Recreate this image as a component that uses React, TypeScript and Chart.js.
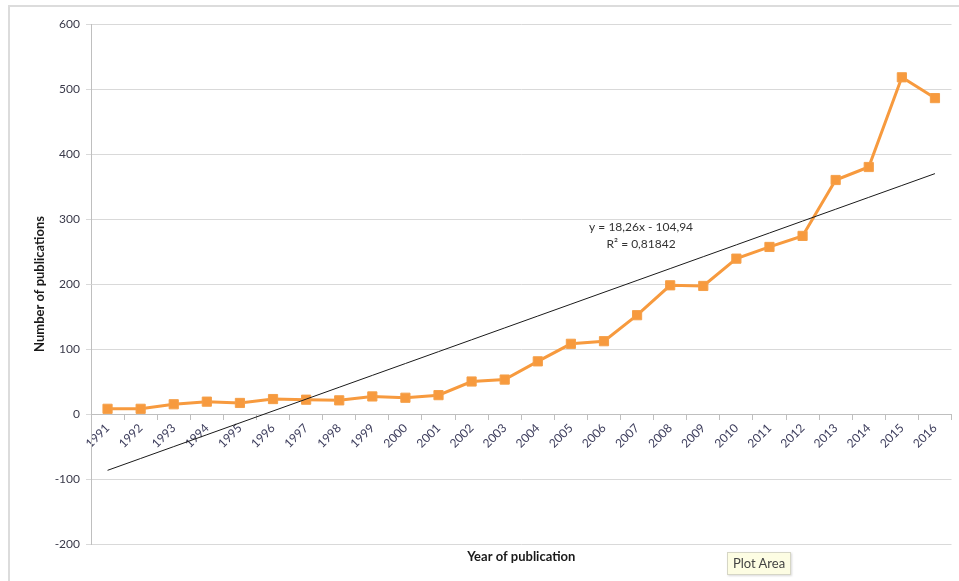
import React, { useEffect, useRef } from "react";
import { Chart, registerables } from "chart.js";

Chart.register(...registerables);

const years: string[] = [
  "1991", "1992", "1993", "1994", "1995", "1996", "1997", "1998", "1999", "2000",
  "2001", "2002", "2003", "2004", "2005", "2006", "2007", "2008", "2009", "2010",
  "2011", "2012", "2013", "2014", "2015", "2016",
];

const publications: number[] = [
  8, 8, 15, 19, 17, 23, 22, 21, 27, 25,
  29, 50, 53, 81, 108, 112, 152, 198, 197, 239,
  257, 274, 360, 380, 518, 486,
];

// Trendline shown in the chart: y = 18,26x - 104,94 (x = 1..26)
const trendSlope = 18.26;
const trendIntercept = -104.94;
const trendLabelLines: string[] = ["y = 18,26x - 104,94", "R² = 0,81842"];

const yTicks: number[] = [-200, -100, 0, 100, 200, 300, 400, 500, 600];

const FONT = "Lato, 'Open Sans', sans-serif";

export default function App() {
  const canvasRef = useRef<HTMLCanvasElement | null>(null);

  useEffect(() => {
    const canvas = canvasRef.current;
    if (!canvas) return;

    const trendData = years.map((_, i) => trendSlope * (i + 1) + trendIntercept);

    const equationPlugin = {
      id: "equationLabel",
      afterDatasetsDraw(chart: any) {
        const { ctx, scales } = chart;
        const x = scales.x.getPixelForValue(16) + 4;
        const y = scales.y.getPixelForValue(287);
        ctx.save();
        ctx.font = `12px ${FONT}`;
        ctx.fillStyle = "#333333";
        ctx.textAlign = "center";
        ctx.textBaseline = "middle";
        trendLabelLines.forEach((t, i) => ctx.fillText(t, x, y + i * 17));
        ctx.restore();
      },
    };

    const chart = new Chart(canvas, {
      type: "line",
      data: {
        labels: years,
        datasets: [
          {
            label: "Trend",
            data: trendData,
            borderColor: "#1a1a1a",
            borderWidth: 1,
            pointRadius: 0,
            fill: false,
            order: 0,
          },
          {
            label: "Publications",
            data: publications,
            borderColor: "#f79a3e",
            backgroundColor: "#f79a3e",
            borderWidth: 3,
            pointStyle: "rect",
            pointRadius: 6.5,
            pointBorderWidth: 1,
            pointBorderColor: "#f5a04a",
            pointBackgroundColor: "#f79a3e",
            fill: false,
            order: 1,
          },
        ],
      },
      options: {
        responsive: false,
        animation: false,
        layout: { padding: { left: 0, top: 24, right: 7, bottom: 37 } },
        plugins: {
          legend: { display: false },
          tooltip: { enabled: false },
        },
        scales: {
          x: {
            type: "category",
            position: { y: 0 } as any,
            offset: true,
            grid: {
              display: true,
              drawOnChartArea: false,
              drawTicks: true,
              tickLength: 5,
              offset: true,
              color: "#bfbfbf",
            },
            border: { display: true, color: "#bfbfbf", width: 1 },
            ticks: {
              minRotation: 45,
              maxRotation: 45,
              autoSkip: false,
              padding: 2,
              color: "#3d3d5c",
              font: { family: FONT, size: 12 },
            },
            title: { display: false },
          },
          y: {
            min: -200,
            max: 600,
            afterBuildTicks: (scale: any) => {
              scale.ticks = yTicks.map((v) => ({ value: v }));
            },
            afterFit: (scale: any) => {
              scale.width = 91;
            },
            grid: {
              color: "#d9d9d9",
              lineWidth: 1,
              drawTicks: true,
              tickLength: 5,
            },
            border: { display: true, color: "#bfbfbf", width: 1 },
            ticks: {
              padding: 6,
              color: "#3a3a4a",
              font: { family: FONT, size: 12 },
            },
            title: {
              display: true,
              text: "Number of publications",
              color: "#1a1a1a",
              font: { family: FONT, size: 13, weight: "bold" },
              padding: { top: 32, bottom: 0 },
            },
          },
        },
      },
      plugins: [
        equationPlugin,
        {
          id: "xTitle",
          afterDraw(chart: any) {
            const { ctx, chartArea } = chart;
            ctx.save();
            ctx.font = `bold 13px ${FONT}`;
            ctx.fillStyle = "#1a1a1a";
            ctx.textAlign = "center";
            ctx.textBaseline = "middle";
            ctx.fillText("Year of publication", (chartArea.left + chartArea.right) / 2, chartArea.bottom + 13);
            ctx.restore();
          },
        },
      ],
    });

    return () => chart.destroy();
  }, []);

  return (
    <div style={{ position: "absolute", left: 0, top: 0, width: 959, height: 581, background: "#fff", overflow: "hidden" }}>
      <div
        style={{
          position: "absolute",
          left: 8,
          top: 5,
          width: 951,
          height: 576,
          borderTop: "2px solid #dcdcdc",
          borderLeft: "2px solid #dcdcdc",
        }}
      />
      <canvas ref={canvasRef} width={959} height={581} style={{ position: "absolute", left: 0, top: 0 }} />
      <div
        style={{
          position: "absolute",
          left: 727,
          top: 552,
          width: 62,
          height: 21,
          background: "#fdfde3",
          border: "1px solid #d6d6c6",
          boxShadow: "1px 1px 2px rgba(0,0,0,0.15)",
          fontFamily: FONT,
          fontSize: 13,
          color: "#444",
          lineHeight: "21px",
          textAlign: "center",
        }}
      >
        Plot Area
      </div>
    </div>
  );
}
